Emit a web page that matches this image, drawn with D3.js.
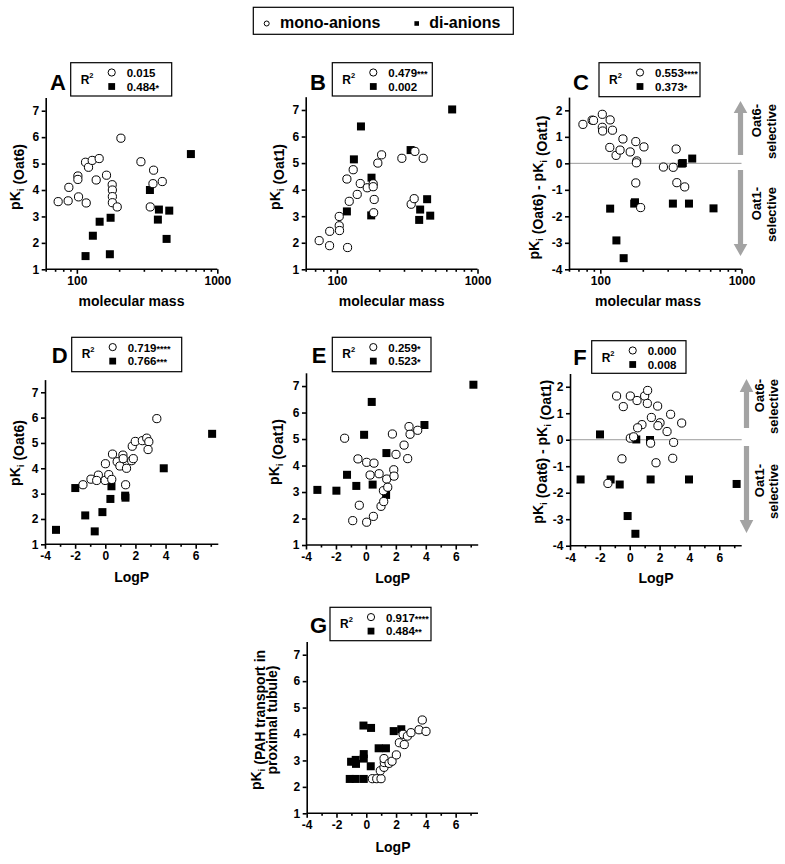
<!DOCTYPE html>
<html><head><meta charset="utf-8">
<script src="https://cdn.jsdelivr.net/npm/d3@7"></script>
<style>
body{margin:0;background:#fff}
svg{font-family:"Liberation Sans",Arial,Helvetica,sans-serif;font-weight:bold}
</style></head><body>
<svg id="chart" width="785" height="864"></svg>
<script>
// ---------------- DATA ----------------
// Panel A: molecular mass vs pKi (Oat6)
const aMono = [[73.6,3.56],[86.7,3.59],[87.7,4.10],[101.7,4.53],[101.7,4.40],[102.8,3.74],[116.6,3.51],[115.3,5.05],[121.1,4.86],[128.6,5.12],[144.2,5.19],[137.3,4.38],[162.6,4.56],[178.5,4.20],[179,4.00],[179,3.75],[179,3.52],[193.8,3.36],[205.9,5.96],[285.9,5.07],[333.1,3.36],[351.9,4.75],[348.2,4.24],[405.7,4.32]];
const aDi = [[115.3,1.50],[130,2.27],[145.3,2.80],[173.9,2.95],[171.8,1.57],[331.3,4.00],[383.9,3.26],[377.5,2.88],[454.9,3.22],[435.4,2.15],[648.6,5.36]];
// Panel B: molecular mass vs pKi (Oat1)
const bMono = [[74.8,2.08],[88.7,1.89],[88.9,2.43],[103.9,2.64],[104.4,2.46],[103.9,2.99],[119.1,1.82],[117.8,4.40],[122.4,3.56],[130.6,4.75],[139.5,3.82],[146.6,4.23],[164.4,4.07],[181.2,4.22],[181.2,4.11],[184.2,3.63],[182.6,3.13],[195.5,5.00],[207.9,5.31],[289.8,5.18],[337.5,3.45],[354.5,3.66],[358.7,5.44],[411,5.18]];
const bDi = [[148.3,6.38],[132.1,5.14],[117.8,3.18],[176.3,4.45],[175.4,3.03],[334.4,5.49],[438.3,3.64],[391,3.25],[384.8,2.86],[461.1,3.02],[660.4,7.02]];
// Panel C: molecular mass vs pKi(Oat6) - pKi(Oat1)
const cMono = [[75.3,1.47],[87.5,1.63],[89.5,1.62],[103.3,1.85],[103.3,1.36],[103.8,1.22],[117.4,1.64],[121.9,1.25],[116.7,0.60],[129.3,0.30],[138,0.50],[144.6,0.92],[162.8,0.43],[178.3,0.82],[181.2,0.09],[180,0.02],[178.3,-0.74],[193,-1.67],[203.7,0.62],[279.8,-0.14],[328.4,-0.15],[344.4,0.54],[348.3,-0.73],[396,-0.89]];
const cDi = [[117.4,-1.71],[130,-2.91],[146.3,-3.58],[173.8,-1.52],[176,-1.47],[326.6,-1.52],[377.6,-0.01],[384,0.01],[447.7,0.18],[424.6,-1.52],[633.5,-1.70]];
// Panel D: LogP vs pKi (Oat6)
const dMono = [[-1.48,3.35],[-0.95,3.57],[-0.46,3.73],[-0.57,3.52],[-0.01,3.52],[0.01,4.18],[0.23,3.75],[0.43,3.56],[0.48,4.56],[0.79,4.26],[0.97,4.09],[1.17,4.52],[1.19,4.38],[1.41,4.00],[1.35,3.35],[1.75,4.30],[1.86,4.38],[1.79,4.87],[1.99,5.06],[2.46,5.09],[2.75,5.19],[2.89,5.05],[2.84,4.74],[3.42,5.96]];
const dDi = [[-3.27,1.57],[-1.99,3.22],[-1.33,2.14],[-0.70,1.51],[-0.19,2.27],[0.34,2.79],[0.41,3.29],[1.32,2.92],[1.34,2.84],[3.88,4.00],[7.09,5.36]];
// Panel E: LogP vs pKi (Oat1)
const eMono = [[-1.42,5.03],[-0.53,4.25],[-0.44,2.50],[-0.88,1.92],[0.05,4.12],[0.05,1.86],[0.28,3.64],[0.54,4.09],[0.50,2.08],[0.88,3.69],[1.01,2.46],[1.19,2.64],[1.17,3.05],[1.39,3.49],[1.46,3.18],[1.77,5.19],[1.86,3.84],[1.88,3.60],[2.01,4.42],[2.55,4.77],[2.79,4.26],[2.88,5.47],[2.95,5.18],[3.46,5.33]];
const eDi = [[-3.24,3.08],[-1.97,3.05],[-1.26,3.65],[-0.64,3.23],[-0.12,5.16],[0.39,6.40],[0.45,3.28],[1.37,4.47],[1.35,2.89],[3.91,5.53],[7.18,7.05]];
// Panel F: LogP vs pKi(Oat6) - pKi(Oat1)
const fMono = [[-0.88,1.65],[0.04,1.65],[0.49,1.48],[-0.43,1.25],[1.00,1.65],[1.20,1.86],[1.18,1.37],[1.87,1.27],[1.45,0.84],[2.03,0.64],[1.89,0.53],[0.82,0.57],[0.53,0.45],[2.50,0.31],[2.74,0.96],[3.48,0.63],[0.04,0.06],[0.26,0.11],[1.40,-0.13],[2.94,-0.10],[-0.52,-0.72],[2.88,-0.70],[1.76,-0.87],[-1.46,-1.65]];
const fDi = [[-3.29,-1.50],[-1.99,0.20],[-1.28,-1.50],[-0.67,-1.69],[-0.14,-2.88],[0.38,-3.55],[0.44,0.01],[1.36,-0.01],[1.40,-1.50],[3.97,-1.50],[7.16,-1.67]];
// Panel G: LogP vs pKi (PAH transport in proximal tubule)
const gMono = [[0.41,2.31],[0.70,2.31],[0.99,2.31],[0.94,2.61],[1.19,2.74],[1.21,2.92],[1.19,3.07],[1.53,2.89],[1.73,2.97],[2.02,3.21],[2.22,3.67],[2.55,3.60],[2.47,3.99],[2.76,3.92],[3.00,4.05],[3.54,4.16],[3.76,4.53],[4.01,4.10]];
const gDi = [[-1.11,2.30],[-0.71,2.30],[-0.17,2.30],[-1.02,2.95],[-0.71,3.02],[-0.69,2.87],[-0.17,3.07],[-0.17,3.24],[0.30,2.78],[0.83,3.46],[1.32,3.46],[1.84,4.11],[2.35,4.18],[-0.19,4.32],[0.32,4.23]];

// R² legend values (mono, di)
const r2Mono = {A:"0.015",B:"0.479***",C:"0.553****",D:"0.719****",E:"0.259*",F:"0.000",G:"0.917****"};
const r2Di   = {A:"0.484*",B:"0.002",C:"0.373*",D:"0.766***",E:"0.523*",F:"0.008",G:"0.484**"};

// tick values
const massDomain = [60,1000];
const massMajor = [100,1000];
const massMinor = [60,70,80,90,200,300,400,500,600,700,800,900];
const logPDomain = [-4,7.5];
const logPMajor = [-4,-2,0,2,4,6];
const logPMinor = [-3,-1,1,3,5,7];
const seriesNames = ["mono-anions","di-anions"];

// ---------------- LAYOUT ----------------
const panels = [
 {id:"A",mono:aMono,di:aDi,xt:"mass",xPx:[45.7,217.3],yDom:[1,7.5],yPx:[269.3,97.5],
  yT:{x:20,cy:177,lines:[["pK",{s:"i"}," (Oat6)"]]},xT:{cx:131.5,by:306,t:"molecular mass"},
  letter:[50,90],box:[70.7,62.7,101,33.3]},
 {id:"B",mono:bMono,di:bDi,xt:"mass",xPx:[305.7,477.5],yDom:[1,7.5],yPx:[269.3,96.7],
  yT:{x:280,cy:177,lines:[["pK",{s:"i"}," (Oat1)"]]},xT:{cx:391.7,by:306,t:"molecular mass"},
  letter:[310,90],box:[332.3,62.7,100,33.3]},
 {id:"C",mono:cMono,di:cDi,xt:"mass",xPx:[569,741.5],yDom:[-4,2.5],yPx:[269.3,97.1],zero:true,
  yT:{x:539,cy:187.6,lines:[["pK",{s:"i"}," (Oat6) - pK",{s:"i"}," (Oat1)"]]},xT:{cx:648,by:306,t:"molecular mass"},
  letter:[573,90],box:[599,62.7,101,34],
  arrow:{x:740.5,upTip:101,upBase:113,upBot:155,dnTop:170,dnBase:244,dnTip:256},
  side:{b1:761,b2:776,top1:104,top2:187}},
 {id:"D",mono:dMono,di:dDi,xt:"logp",xPx:[45,218.3],yDom:[1,7.5],yPx:[544.3,379.6],
  yT:{x:20,cy:453,lines:[["pK",{s:"i"}," (Oat6)"]]},xT:{cx:131.7,by:582,t:"LogP"},
  letter:[51.7,363.3],box:[71.7,337.3,110,34.4]},
 {id:"E",mono:eMono,di:eDi,xt:"logp",xPx:[306,478.2],yDom:[1,7.5],yPx:[545,372.8],
  yT:{x:279,cy:452,lines:[["pK",{s:"i"}," (Oat1)"]]},xT:{cx:392.7,by:583,t:"LogP"},
  letter:[311.7,363.3],box:[332.3,337.3,98.7,34.4]},
 {id:"F",mono:fMono,di:fDi,xt:"logp",xPx:[570,741.7],yDom:[-4,2.5],yPx:[545.7,373.5],zero:true,
  yT:{x:543,cy:451.7,lines:[["pK",{s:"i"}," (Oat6) - pK",{s:"i"}," (Oat1)"]]},xT:{cx:656,by:583,t:"LogP"},
  letter:[573.3,365],box:[591.7,340.7,94.3,32.6],
  arrow:{x:746.5,upTip:379,upBase:392,upBot:428,dnTop:446,dnBase:520,dnTip:533},
  side:{b1:764,b2:778,top1:379,top2:464}},
 {id:"G",mono:gMono,di:gDi,xt:"logp",xPx:[306.7,478],yDom:[1,7.5],yPx:[813.3,641.5],
  yT:{x:261,x2:277,cy:720,lines:[["pK",{s:"i"}," (PAH transport in"],["proximal tubule)"]]},xT:{cx:393,by:851.7,t:"LogP"},
  letter:[310,633.3],box:[330,607.3,101,33.4]}
];

const svg = d3.select("#chart");
const AX = 1.6, TICKF = 12, TITLEF = 14;
const fmtTick = d => String(d);

function rich(sel, parts, size){
  parts.forEach(pt=>{
    if(typeof pt==="string"){
      sel.append("tspan").text(pt);
    } else {
      sel.append("tspan").attr("font-size",size*0.7).attr("dy",size*0.28).text(pt.s);
      sel.append("tspan").attr("dy",-size*0.28).text("");
    }
  });
}

function valueText(sel, str){
  const m = str.match(/^([^*]*)(\**)$/);
  sel.append("tspan").text(m[1]);
  if(m[2]) sel.append("tspan").attr("font-size",9).text(m[2]);
}

function styleAxis(a){
  a.attr("font-family",null).attr("font-size",TICKF).attr("font-weight","bold");
  a.selectAll("path,line").attr("stroke","#000").attr("stroke-width",AX);
  a.selectAll("text").attr("fill","#000");
}

function drawPanel(p){
  const g = svg.append("g");
  const x = p.xt==="mass" ? d3.scaleLog().domain(massDomain).range(p.xPx) : d3.scaleLinear().domain(logPDomain).range(p.xPx);
  const y = d3.scaleLinear().domain(p.yDom).range(p.yPx);

  if(p.zero){
    g.append("line").attr("x1",p.xPx[0]).attr("x2",p.xPx[1]).attr("y1",y(0)).attr("y2",y(0))
      .attr("stroke","#9a9a9a").attr("stroke-width",1);
  }
  // x axis
  const major = p.xt==="mass"?massMajor:logPMajor, minor = p.xt==="mass"?massMinor:logPMinor;
  const xm = g.append("g").attr("transform",`translate(0,${p.yPx[0]})`)
     .call(d3.axisBottom(x).tickValues(minor).tickFormat(()=>"").tickSize(2.5).tickSizeOuter(0));
  xm.select(".domain").remove();
  styleAxis(xm);
  const xa = g.append("g").attr("transform",`translate(0,${p.yPx[0]})`)
     .call(d3.axisBottom(x).tickValues(major).tickFormat(fmtTick).tickSize(4.5).tickSizeOuter(0).tickPadding(3));
  styleAxis(xa);
  xa.select(".domain").attr("d",`M${p.xPx[0]},0H${p.xPx[1]}`);
  // y axis
  const yt = d3.range(Math.ceil(p.yDom[0]), Math.floor(p.yDom[1])+1);
  const ya = g.append("g").attr("transform",`translate(${p.xPx[0]},0)`)
     .call(d3.axisLeft(y).tickValues(yt).tickFormat(fmtTick).tickSize(4).tickSizeOuter(0).tickPadding(2.5));
  styleAxis(ya);

  // points: squares first then circles
  const S = 8;
  g.selectAll("rect.di").data(p.di).join("rect").attr("class","di")
    .attr("x",d=>x(d[0])-S/2).attr("y",d=>y(d[1])-S/2).attr("width",S).attr("height",S).attr("fill","#000");
  g.selectAll("circle.mono").data(p.mono).join("circle").attr("class","mono")
    .attr("cx",d=>x(d[0])).attr("cy",d=>y(d[1])).attr("r",4.1)
    .attr("fill","#fff").attr("stroke","#000").attr("stroke-width",1);

  // axis titles
  g.append("text").attr("x",p.xT.cx).attr("y",p.xT.by).attr("text-anchor","middle")
    .attr("font-size",TITLEF).text(p.xT.t);
  p.yT.lines.forEach((ln,i)=>{
    const bx = i===0 ? p.yT.x : p.yT.x2;
    const t = g.append("text").attr("transform",`translate(${bx},${p.yT.cy}) rotate(-90)`)
      .attr("text-anchor","middle").attr("font-size",TITLEF);
    rich(t, ln, TITLEF);
  });

  // panel letter
  g.append("text").attr("x",p.letter[0]).attr("y",p.letter[1]).attr("font-size",22).text(p.id);

  // R² legend box
  const [bx,by,bw,bh] = p.box;
  g.append("rect").attr("x",bx).attr("y",by).attr("width",bw).attr("height",bh)
    .attr("fill","#fff").attr("stroke","#000").attr("stroke-width",1.2);
  const r = g.append("text").attr("x",bx+10).attr("y",by+21).attr("font-size",12);
  r.append("tspan").text("R");
  r.append("tspan").attr("font-size",7.5).attr("dy",-6).text("2");
  g.append("circle").attr("cx",bx+41).attr("cy",by+9.8).attr("r",3.6)
    .attr("fill","#fff").attr("stroke","#000").attr("stroke-width",1);
  g.append("rect").attr("x",bx+41-3.4).attr("y",by+23.8-3.4).attr("width",6.8).attr("height",6.8).attr("fill","#000");
  valueText(g.append("text").attr("x",bx+56).attr("y",by+14.3).attr("font-size",11.5), r2Mono[p.id]);
  valueText(g.append("text").attr("x",bx+56).attr("y",by+28).attr("font-size",11.5), r2Di[p.id]);

  // selectivity arrows
  if(p.arrow){
    const a = p.arrow, sw = 2.6, hw = 6.8, col = "#a3a3a3";
    g.append("path").attr("fill",col)
      .attr("d",`M${a.x-sw},${a.upBot}V${a.upBase}H${a.x-hw}L${a.x},${a.upTip}L${a.x+hw},${a.upBase}H${a.x+sw}V${a.upBot}Z`);
    g.append("path").attr("fill",col)
      .attr("d",`M${a.x-sw},${a.dnTop}V${a.dnBase}H${a.x-hw}L${a.x},${a.dnTip}L${a.x+hw},${a.dnBase}H${a.x+sw}V${a.dnTop}Z`);
    const s = p.side;
    const lab = [["Oat6-",s.b1,s.top1],["selective",s.b2,s.top1],["Oat1-",s.b1,s.top2],["selective",s.b2,s.top2]];
    lab.forEach(l=>{
      g.append("text").attr("transform",`translate(${l[1]},${l[2]}) rotate(-90)`)
        .attr("text-anchor","end").attr("font-size",13).text(l[0]);
    });
  }
}
panels.forEach(drawPanel);

// top legend
const lg = svg.append("g");
lg.append("rect").attr("x",253.3).attr("y",7.3).attr("width",260).attr("height",27)
  .attr("fill","#fff").attr("stroke","#000").attr("stroke-width",1.2);
lg.append("circle").attr("cx",266.7).attr("cy",23.5).attr("r",2.5).attr("fill","#fff").attr("stroke","#000").attr("stroke-width",1);
lg.append("text").attr("x",280).attr("y",28).attr("font-size",16).text(seriesNames[0]);
lg.append("rect").attr("x",416.7-2.3).attr("y",23.5-2.3).attr("width",4.6).attr("height",4.6).attr("fill","#000");
lg.append("text").attr("x",429.3).attr("y",28).attr("font-size",16).text(seriesNames[1]);
</script>
</body></html>
